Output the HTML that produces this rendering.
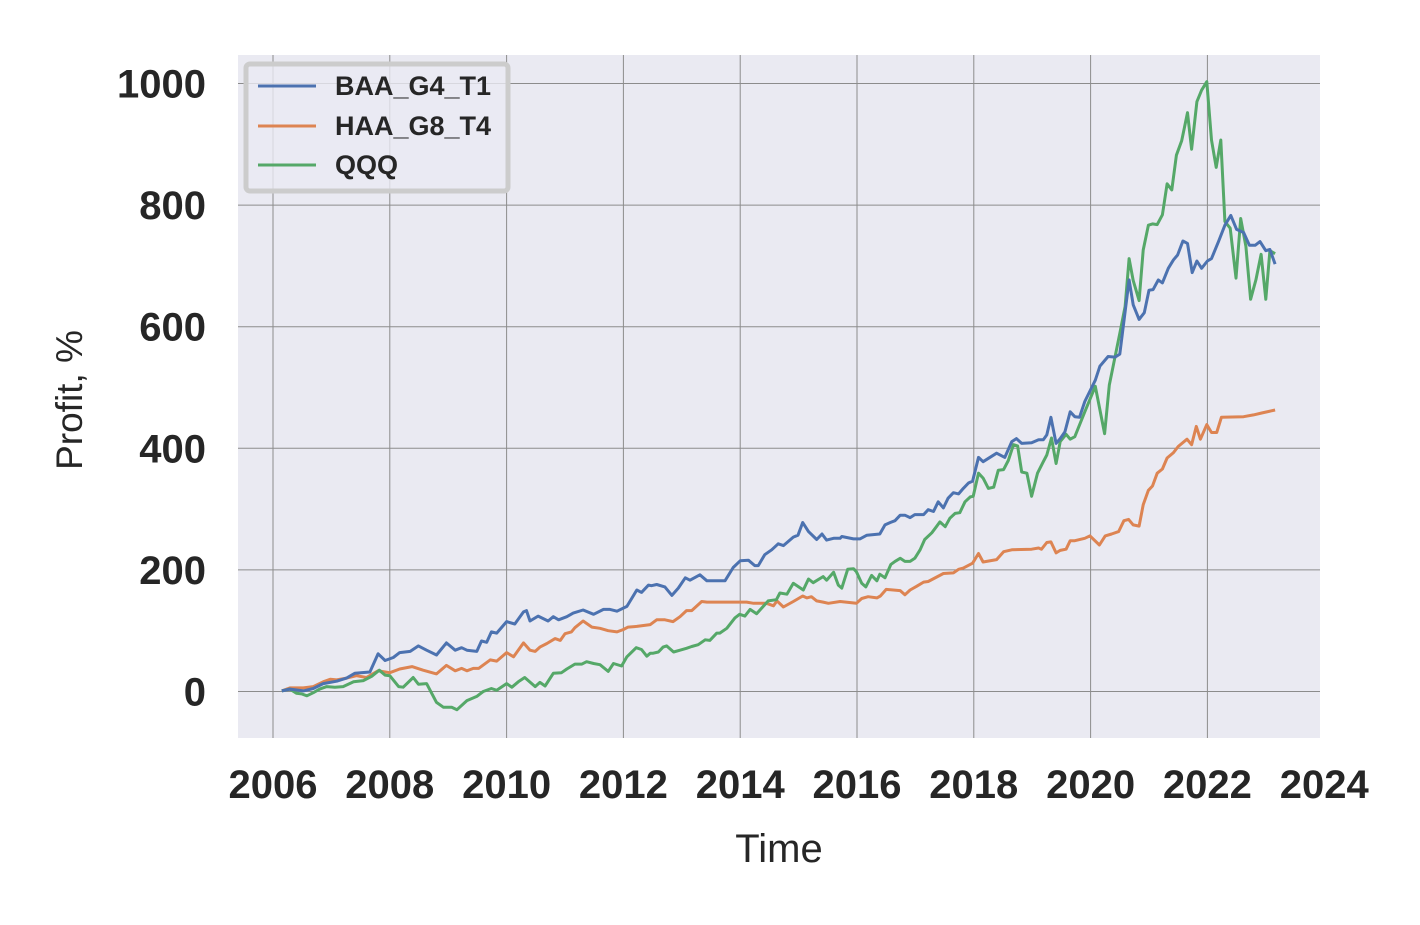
<!DOCTYPE html>
<html><head><meta charset="utf-8"><style>
body{margin:0;background:#fff;width:1420px;height:920px;overflow:hidden;font-family:"Liberation Sans",Arial,sans-serif}
</style></head><body>
<svg width="1420" height="920" xmlns="http://www.w3.org/2000/svg">
<rect x="238" y="55" width="1082" height="683" fill="#eaeaf2"/>
<g id="grid"></g><g id="series"></g><g id="axes"></g>
<text x="779" y="862" font-size="40" text-anchor="middle" fill="#262626">Time</text>
<text transform="translate(82,400) rotate(-90)" font-size="37" text-anchor="middle" fill="#262626">Profit, %</text>
<g>
<rect x="246" y="64" width="262" height="127" rx="4" fill="#eaeaf2" fill-opacity="0.8" stroke="#cccccc" stroke-width="5"/>
<line x1="258" y1="86" x2="316" y2="86" stroke="#4c72b0" stroke-width="3"/>
<text x="335" y="95" font-size="27" font-weight="bold" fill="#262626">BAA_G4_T1</text>
<line x1="258" y1="126" x2="316" y2="126" stroke="#dd8452" stroke-width="3"/>
<text x="335" y="135" font-size="27" font-weight="bold" fill="#262626">HAA_G8_T4</text>
<line x1="258" y1="165" x2="316" y2="165" stroke="#55a868" stroke-width="3"/>
<text x="335" y="174" font-size="27" font-weight="bold" fill="#262626">QQQ</text>
</g>
</svg>
<script>
const xTicks=[2006,2008,2010,2012,2014,2016,2018,2020,2022,2024];
const yTicks=[0,200,400,600,800,1000];
const baaYears=[2006.15,2006.29,2006.52,2006.69,2006.86,2007.09,2007.26,2007.40,2007.66,2007.80,2007.92,2008.06,2008.17,2008.35,2008.49,2008.63,2008.80,2008.97,2009.12,2009.23,2009.32,2009.49,2009.57,2009.66,2009.74,2009.83,2010.00,2010.14,2010.29,2010.34,2010.40,2010.54,2010.71,2010.80,2010.89,2011.03,2011.14,2011.31,2011.49,2011.66,2011.77,2011.89,2012.06,2012.23,2012.31,2012.43,2012.48,2012.57,2012.71,2012.83,2012.94,2013.06,2013.14,2013.31,2013.43,2013.74,2013.88,2014.00,2014.14,2014.25,2014.31,2014.42,2014.54,2014.65,2014.74,2014.91,2014.99,2015.07,2015.17,2015.31,2015.40,2015.48,2015.60,2015.71,2015.74,2015.94,2016.05,2016.17,2016.39,2016.48,2016.57,2016.65,2016.74,2016.82,2016.91,2016.99,2017.14,2017.22,2017.31,2017.39,2017.48,2017.56,2017.65,2017.74,2017.82,2017.91,2017.98,2018.08,2018.16,2018.39,2018.53,2018.65,2018.73,2018.82,2018.99,2019.11,2019.19,2019.25,2019.32,2019.41,2019.48,2019.56,2019.65,2019.73,2019.81,2019.90,2020.08,2020.16,2020.30,2020.42,2020.50,2020.66,2020.73,2020.83,2020.92,2021.00,2021.07,2021.16,2021.23,2021.33,2021.42,2021.49,2021.58,2021.66,2021.74,2021.82,2021.90,2022.00,2022.07,2022.19,2022.30,2022.40,2022.50,2022.62,2022.72,2022.82,2022.90,2023.00,2023.07,2023.16];
const baaValues=[1,4,1,5,13,17,22,30,32,62,51,56,64,66,75,68,60,80,68,72,68,66,83,81,98,96,115,111,131,133,116,124,116,123,118,123,129,134,127,135,135,132,140,167,163,175,174,176,172,158,170,187,183,192,182,182,204,215,216,207,207,225,233,243,240,254,257,278,263,250,259,249,252,252,255,251,251,257,259,274,278,281,290,290,286,291,291,299,296,312,302,318,327,325,334,343,346,385,378,392,385,411,416,408,409,414,414,422,451,408,416,427,460,452,451,477,512,535,551,550,555,677,636,612,623,660,661,677,672,696,710,718,741,737,689,708,696,708,712,740,767,783,760,755,734,734,740,725,727,703];
const haaYears=[2006.15,2006.29,2006.52,2006.69,2006.86,2006.98,2007.09,2007.26,2007.43,2007.60,2007.80,2008.00,2008.17,2008.38,2008.57,2008.80,2008.97,2009.12,2009.23,2009.32,2009.43,2009.52,2009.72,2009.83,2010.00,2010.12,2010.29,2010.40,2010.49,2010.57,2010.69,2010.83,2010.92,2011.00,2011.11,2011.17,2011.31,2011.46,2011.60,2011.74,2011.89,2012.00,2012.08,2012.23,2012.46,2012.57,2012.71,2012.85,2012.97,2013.08,2013.17,2013.34,2013.43,2014.11,2014.23,2014.45,2014.57,2014.63,2014.74,2014.91,2015.07,2015.14,2015.22,2015.31,2015.42,2015.51,2015.71,2015.99,2016.08,2016.19,2016.34,2016.40,2016.50,2016.74,2016.82,2016.91,2017.02,2017.14,2017.22,2017.48,2017.65,2017.74,2017.82,2017.98,2018.08,2018.16,2018.39,2018.51,2018.65,2018.99,2019.11,2019.16,2019.25,2019.32,2019.41,2019.48,2019.58,2019.65,2019.73,2019.90,2019.99,2020.15,2020.25,2020.36,2020.48,2020.57,2020.65,2020.73,2020.83,2020.90,2020.99,2021.06,2021.14,2021.23,2021.31,2021.42,2021.50,2021.65,2021.73,2021.81,2021.88,2021.99,2022.07,2022.16,2022.24,2022.62,2022.79,2022.93,2023.16];
const haaValues=[1,6,6,8,16,20,19,22,26,23,34,31,37,41,35,29,43,34,38,34,38,38,52,50,64,57,80,68,66,73,79,87,84,95,98,105,116,106,104,100,98,102,106,107,110,118,118,115,123,133,133,148,147,147,145,145,141,149,139,148,157,154,156,149,147,145,148,145,153,156,154,157,168,166,159,167,173,180,181,194,195,201,203,211,227,213,217,230,233,234,236,234,245,246,228,232,234,248,248,252,256,241,256,259,263,281,283,274,272,307,331,338,359,366,384,393,403,415,406,436,415,439,426,426,451,452,455,458,463];
const qqqYears=[2006.15,2006.29,2006.40,2006.49,2006.58,2006.69,2006.80,2006.92,2007.06,2007.20,2007.38,2007.55,2007.69,2007.82,2007.92,2008.00,2008.15,2008.23,2008.40,2008.49,2008.63,2008.80,2008.92,2009.06,2009.15,2009.32,2009.49,2009.60,2009.74,2009.83,2010.00,2010.09,2010.20,2010.31,2010.49,2010.57,2010.66,2010.80,2010.94,2011.03,2011.17,2011.29,2011.37,2011.49,2011.60,2011.74,2011.83,2011.97,2012.06,2012.22,2012.31,2012.40,2012.46,2012.51,2012.60,2012.68,2012.74,2012.86,2012.97,2013.08,2013.17,2013.28,2013.40,2013.48,2013.60,2013.65,2013.77,2013.91,2013.99,2014.08,2014.17,2014.28,2014.48,2014.62,2014.68,2014.80,2014.91,2015.08,2015.17,2015.25,2015.42,2015.48,2015.60,2015.68,2015.74,2015.84,2015.94,2015.99,2016.08,2016.15,2016.25,2016.34,2016.39,2016.48,2016.58,2016.65,2016.74,2016.82,2016.91,2016.99,2017.08,2017.16,2017.28,2017.36,2017.42,2017.51,2017.59,2017.68,2017.76,2017.85,2017.94,2017.99,2018.08,2018.16,2018.25,2018.34,2018.42,2018.51,2018.59,2018.68,2018.75,2018.82,2018.91,2018.99,2019.09,2019.19,2019.25,2019.33,2019.41,2019.48,2019.58,2019.65,2019.73,2019.90,2020.08,2020.24,2020.32,2020.42,2020.50,2020.59,2020.66,2020.73,2020.83,2020.90,2020.99,2021.06,2021.14,2021.23,2021.31,2021.39,2021.47,2021.56,2021.66,2021.73,2021.82,2021.90,2021.99,2022.07,2022.15,2022.23,2022.30,2022.39,2022.49,2022.57,2022.66,2022.74,2022.83,2022.92,2023.00,2023.07,2023.16];
const qqqValues=[1,4,-3,-4,-7,-2,4,8,7,8,16,18,25,35,27,26,8,7,23,12,13,-18,-26,-26,-30,-15,-8,0,5,2,13,7,16,23,8,15,9,30,31,37,45,45,49,46,44,33,46,42,57,72,69,58,63,63,65,73,75,65,68,71,74,77,85,84,96,96,104,121,127,124,135,128,149,151,162,160,178,167,185,179,189,183,196,175,170,201,202,197,178,172,191,182,193,187,209,214,219,214,214,219,233,250,261,271,279,271,285,293,294,312,320,321,359,351,334,336,364,365,380,406,404,361,359,321,359,378,389,417,375,411,423,415,419,460,502,424,504,551,589,633,712,676,643,726,767,769,768,784,835,825,882,906,952,892,970,989,1003,907,862,907,773,762,680,778,732,645,677,719,645,725,720];

const NS="http://www.w3.org/2000/svg";
const X=y=>273+(y-2006)*58.4;
const Y=v=>691.5-v*0.608;
function mk(tag,attrs,parent){const e=document.createElementNS(NS,tag);for(const k in attrs)e.setAttribute(k,attrs[k]);parent.appendChild(e);return e;}
const grid=document.getElementById('grid'),axes=document.getElementById('axes'),series=document.getElementById('series');
xTicks.forEach(t=>{
  if(X(t)<=1320){const l=mk('line',{x1:X(t),x2:X(t),y1:55,y2:738,stroke:'#8c8c8c','stroke-width':1},grid);
  
  }
  const tx=mk('text',{x:X(t),y:798,'font-size':40,'font-weight':'bold','text-anchor':'middle',fill:'#262626'},axes);
  tx.textContent=t;
  
  
});
yTicks.forEach(t=>{
  const l=mk('line',{x1:238,x2:1320,y1:Y(t),y2:Y(t),stroke:'#8c8c8c','stroke-width':1},grid);
  
  
  const tx=mk('text',{x:206,y:Y(t)+14,'font-size':40,'font-weight':'bold','text-anchor':'end',fill:'#262626'},axes);
  tx.textContent=t;
  
  
});
function line(xs,vs,color,name){
  const d=xs.map((x,i)=>(i?'L':'M')+X(x).toFixed(1)+','+Y(vs[i]).toFixed(1)).join('');
  const p=mk('path',{d:d,fill:'none',stroke:color,'stroke-width':3,'stroke-linejoin':'round'},series);
  
  
}
line(haaYears,haaValues,'#dd8452','haa-g8-t4-line');
line(qqqYears,qqqValues,'#55a868','qqq-line');
line(baaYears,baaValues,'#4c72b0','baa-g4-t1-line');
</script>
</body></html>
